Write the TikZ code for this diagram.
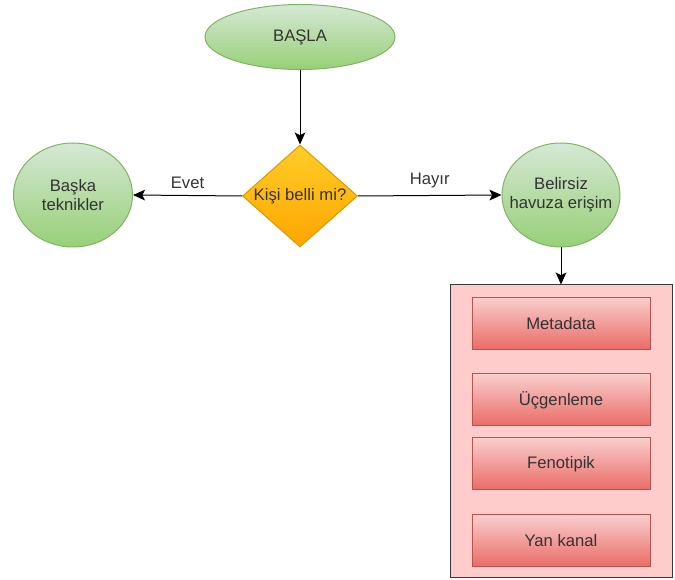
\documentclass[tikz,border=0pt]{standalone}
\usepackage{fontspec}
\setmainfont{Liberation Sans}
\usetikzlibrary{shapes.geometric,arrows.meta}
\definecolor{gtop}{HTML}{D5E8D4}
\definecolor{gbot}{HTML}{97D077}
\definecolor{gline}{HTML}{82B366}
\definecolor{otop}{HTML}{FFCD28}
\definecolor{obot}{HTML}{FFA500}
\definecolor{oline}{HTML}{D79B00}
\definecolor{rtop}{HTML}{F8CECC}
\definecolor{rbot}{HTML}{EA6B66}
\definecolor{rline}{HTML}{B85450}
\definecolor{cfill}{HTML}{FFCCCC}
\definecolor{cline}{HTML}{36393D}
\definecolor{txt}{HTML}{333333}
\tikzset{
  px/.style={x=0.75pt,y=-0.75pt},
  gshape/.style={ellipse,draw=gline,line width=0.75pt,top color=gtop,bottom color=gbot,inner sep=0pt},
  dshape/.style={diamond,draw=oline,line width=0.75pt,top color=otop,bottom color=obot,inner sep=0pt},
  rbox/.style={rectangle,draw=rline,line width=0.75pt,top color=rtop,bottom color=rbot,inner sep=0pt,minimum width=133.5pt,minimum height=39pt},
  lbl/.style={text=txt,font=\fontsize{12.5}{14.5}\selectfont,align=center,inner sep=0pt},
  conn/.style={draw=black,line width=0.75pt,-{Stealth[length=9pt,width=8pt,inset=2pt]}}
}
\begin{document}
\begin{tikzpicture}[px]
\useasboundingbox (0,0) rectangle (675,580);
% start
\node[gshape,minimum width=142.5pt,minimum height=48.75pt] (start) at (300,37) {};
\node[lbl] at (start) {BAŞLA};
% decision
\node[dshape,minimum width=86.25pt,minimum height=76.5pt] (dec) at (300,196) {};
\node[lbl] at (dec) {Kişi belli mi?};
% left circle
\node[gshape,minimum width=89.25pt,minimum height=78pt] (left) at (73,195) {};
\node[lbl] at (left) {Başka\\teknikler};
% right circle
\node[gshape,minimum width=88.5pt,minimum height=78pt] (right) at (561,195) {};
\node[lbl] at (right) {Belirsiz\\havuza erişim};
% container
\node[rectangle,draw=cline,line width=0.75pt,fill=cfill,minimum width=166.5pt,minimum height=219.75pt,inner sep=0pt] (cont) at (561,431.5) {};
\node[rbox] (b1) at (561,323.5) {};
\node[lbl] at (b1) {Metadata};
\node[rbox] (b2) at (561,400) {};
\node[lbl] at (b2) {Üçgenleme};
\node[rbox] (b3) at (561,464) {};
\node[lbl] at (b3) {Fenotipik};
\node[rbox] (b4) at (561,541) {};
\node[lbl] at (b4) {Yan kanal};
% connectors
\draw[conn] (start.south) -- (dec.north);
\draw[conn] (dec.west) -- node[lbl,above=5pt] {Evet} (left.east);
\draw[conn] (dec.east) -- node[lbl,above=5pt] {Hayır} (right.west);
\draw[conn] (right.south) -- (cont.north);
\end{tikzpicture}
\end{document}
